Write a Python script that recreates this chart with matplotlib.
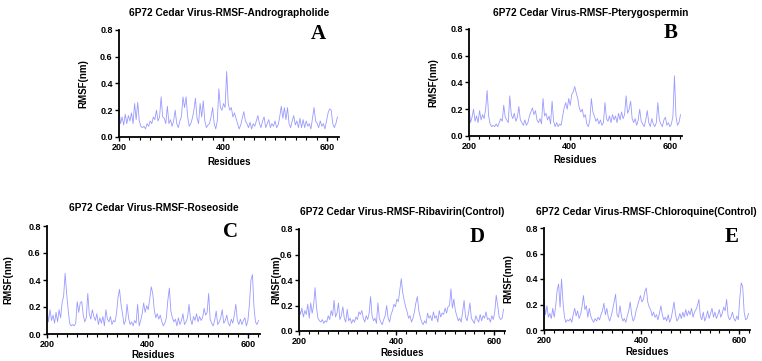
import numpy as np
import matplotlib
matplotlib.use("Agg")
import matplotlib.pyplot as plt
from matplotlib.ticker import MultipleLocator

# residue index, one value every 3 residues
residues = np.arange(200, 621, 3)

rmsf_andrographolide = [
    0.20, 0.10, 0.15, 0.09, 0.17, 0.10, 0.16, 0.12, 0.18, 0.10,
    0.25, 0.13, 0.26, 0.12, 0.08, 0.07, 0.08, 0.06, 0.10, 0.08,
    0.12, 0.10, 0.15, 0.13, 0.20, 0.12, 0.15, 0.30, 0.15, 0.14,
    0.10, 0.23, 0.10, 0.13, 0.08, 0.12, 0.20, 0.10, 0.07, 0.12,
    0.15, 0.30, 0.22, 0.30, 0.15, 0.08, 0.10, 0.14, 0.20, 0.29,
    0.14, 0.10, 0.25, 0.15, 0.27, 0.12, 0.07, 0.09, 0.10, 0.15,
    0.22, 0.10, 0.06, 0.12, 0.36, 0.22, 0.20, 0.25, 0.22, 0.49,
    0.25, 0.20, 0.22, 0.15, 0.18, 0.14, 0.10, 0.06, 0.09, 0.14,
    0.19, 0.12, 0.10, 0.07, 0.11, 0.06, 0.10, 0.08, 0.12, 0.16,
    0.10, 0.07, 0.12, 0.15, 0.07, 0.10, 0.13, 0.07, 0.10, 0.08,
    0.12, 0.07, 0.09, 0.15, 0.23, 0.14, 0.22, 0.13, 0.22, 0.10,
    0.07, 0.12, 0.16, 0.09, 0.12, 0.07, 0.14, 0.07, 0.13, 0.07,
    0.12, 0.08, 0.10, 0.06, 0.14, 0.22, 0.12, 0.10, 0.07, 0.12,
    0.08, 0.10, 0.06, 0.12, 0.18, 0.21, 0.20, 0.10, 0.07, 0.10,
    0.15,
]

rmsf_pterygospermin = [
    0.22, 0.10, 0.14, 0.20, 0.11, 0.15, 0.10, 0.19, 0.12, 0.16,
    0.13, 0.20, 0.34, 0.15, 0.09, 0.07, 0.08, 0.07, 0.09, 0.07,
    0.10, 0.13, 0.11, 0.23, 0.14, 0.12, 0.10, 0.30, 0.16, 0.13,
    0.17, 0.11, 0.14, 0.22, 0.12, 0.10, 0.08, 0.12, 0.08, 0.10,
    0.15, 0.18, 0.21, 0.16, 0.19, 0.12, 0.10, 0.13, 0.09, 0.28,
    0.15, 0.17, 0.12, 0.15, 0.09, 0.26, 0.11, 0.07, 0.10, 0.07,
    0.09, 0.08, 0.15, 0.21, 0.25, 0.20, 0.28, 0.23, 0.31, 0.33,
    0.37, 0.32, 0.28, 0.21, 0.18, 0.20, 0.14, 0.16, 0.09, 0.07,
    0.12, 0.28, 0.18, 0.15, 0.11, 0.13, 0.09, 0.12, 0.08, 0.10,
    0.25, 0.13, 0.11, 0.15, 0.10, 0.16, 0.12, 0.15, 0.10, 0.17,
    0.12, 0.18, 0.13, 0.16, 0.30, 0.17, 0.20, 0.26, 0.13, 0.10,
    0.13, 0.08, 0.12, 0.20, 0.11, 0.09, 0.07, 0.12, 0.19, 0.10,
    0.07, 0.13, 0.09, 0.07, 0.10, 0.25, 0.12, 0.09, 0.07, 0.12,
    0.14, 0.08, 0.10, 0.07, 0.09, 0.15, 0.45, 0.15, 0.08, 0.10,
    0.16,
]

rmsf_roseoside = [
    0.20, 0.09, 0.18, 0.10, 0.14, 0.08, 0.16, 0.09, 0.18, 0.12,
    0.23, 0.28, 0.45, 0.30, 0.18, 0.08, 0.06, 0.07, 0.06, 0.08,
    0.24, 0.16, 0.23, 0.24, 0.14, 0.09, 0.12, 0.30, 0.15, 0.11,
    0.18, 0.13, 0.10, 0.15, 0.07, 0.12, 0.08, 0.13, 0.06, 0.18,
    0.11, 0.09, 0.13, 0.07, 0.10, 0.09, 0.15, 0.27, 0.33, 0.22,
    0.15, 0.07, 0.10, 0.22, 0.12, 0.07, 0.09, 0.06, 0.10, 0.08,
    0.22, 0.06, 0.10, 0.15, 0.23, 0.16, 0.21, 0.18, 0.26, 0.35,
    0.30, 0.18, 0.12, 0.15, 0.11, 0.14, 0.09, 0.06, 0.08, 0.12,
    0.25, 0.34, 0.17, 0.12, 0.09, 0.11, 0.06, 0.12, 0.07, 0.10,
    0.15, 0.07, 0.09, 0.12, 0.22, 0.11, 0.07, 0.13, 0.10, 0.15,
    0.09, 0.13, 0.10, 0.12, 0.19, 0.14, 0.16, 0.30, 0.11, 0.08,
    0.06, 0.10, 0.17, 0.07, 0.09, 0.12, 0.18, 0.08, 0.10, 0.14,
    0.08, 0.06, 0.11, 0.08, 0.14, 0.22, 0.10, 0.07, 0.11, 0.07,
    0.10, 0.12, 0.06, 0.10, 0.22, 0.40, 0.44, 0.20, 0.09, 0.07,
    0.10,
]

rmsf_ribavirin = [
    0.19, 0.13, 0.18, 0.11, 0.16, 0.13, 0.21, 0.10, 0.22, 0.14,
    0.20, 0.34, 0.18, 0.10, 0.08, 0.07, 0.09, 0.06, 0.08, 0.07,
    0.12, 0.09, 0.16, 0.12, 0.24, 0.11, 0.14, 0.22, 0.09, 0.12,
    0.19, 0.10, 0.07, 0.17, 0.08, 0.10, 0.06, 0.09, 0.07, 0.11,
    0.09, 0.15, 0.13, 0.16, 0.10, 0.07, 0.12, 0.09, 0.14, 0.27,
    0.12, 0.08, 0.10, 0.06, 0.22, 0.10, 0.07, 0.05, 0.09, 0.12,
    0.20, 0.10, 0.07, 0.13, 0.16, 0.21, 0.19, 0.25, 0.23, 0.32,
    0.41, 0.30, 0.24, 0.19, 0.15, 0.10, 0.12, 0.07, 0.10, 0.15,
    0.22, 0.27, 0.16, 0.11, 0.07, 0.05, 0.08, 0.06, 0.14, 0.10,
    0.12, 0.08, 0.15, 0.10, 0.12, 0.07, 0.16, 0.11, 0.14, 0.13,
    0.18, 0.14, 0.19, 0.20, 0.33, 0.18, 0.25, 0.16, 0.12, 0.08,
    0.10, 0.07, 0.15, 0.24, 0.11, 0.08, 0.14, 0.22, 0.10, 0.08,
    0.06, 0.12, 0.09, 0.07, 0.13, 0.08, 0.12, 0.10, 0.15, 0.09,
    0.10, 0.07, 0.12, 0.09, 0.15, 0.28, 0.20, 0.11, 0.09, 0.10,
    0.17,
]

rmsf_chloroquine = [
    0.25, 0.12, 0.19, 0.10, 0.13, 0.09, 0.17, 0.10, 0.19, 0.31,
    0.36, 0.18, 0.40, 0.22, 0.10, 0.06, 0.08, 0.07, 0.09, 0.06,
    0.12, 0.17, 0.11, 0.15, 0.09, 0.12, 0.18, 0.27, 0.16, 0.19,
    0.10, 0.17, 0.11, 0.08, 0.06, 0.09, 0.07, 0.10, 0.08, 0.12,
    0.15, 0.21, 0.12, 0.17, 0.10, 0.07, 0.11, 0.16, 0.22, 0.28,
    0.12, 0.10, 0.19, 0.11, 0.07, 0.09, 0.06, 0.11, 0.15, 0.22,
    0.12, 0.07, 0.09, 0.15, 0.19, 0.23, 0.27, 0.22, 0.24, 0.30,
    0.33, 0.22, 0.18, 0.16, 0.11, 0.14, 0.10, 0.12, 0.08, 0.13,
    0.19, 0.12, 0.08, 0.10, 0.07, 0.12, 0.06, 0.09, 0.15, 0.22,
    0.12, 0.07, 0.09, 0.13, 0.09, 0.14, 0.10, 0.16, 0.11, 0.15,
    0.12, 0.17, 0.10, 0.14, 0.16, 0.19, 0.24, 0.11, 0.08, 0.14,
    0.07, 0.10, 0.15, 0.09, 0.13, 0.17, 0.10, 0.14, 0.09, 0.12,
    0.16, 0.10, 0.13, 0.18, 0.15, 0.24, 0.11, 0.08, 0.10, 0.14,
    0.09, 0.07, 0.11, 0.08, 0.25, 0.37, 0.34, 0.14, 0.08, 0.09,
    0.13,
]

titles = [
    "6P72 Cedar Virus-RMSF-Andrographolide",
    "6P72 Cedar Virus-RMSF-Pterygospermin",
    "6P72 Cedar Virus-RMSF-Roseoside",
    "6P72 Cedar Virus-RMSF-Ribavirin(Control)",
    "6P72 Cedar Virus-RMSF-Chloroquine(Control)",
]
letters = ["A", "B", "C", "D", "E"]
series = [rmsf_andrographolide, rmsf_pterygospermin, rmsf_roseoside,
          rmsf_ribavirin, rmsf_chloroquine]

W, H = 762, 361
# panel layout in pixels: axes box (left, top, right, bottom),
# title centre, ylabel x, xlabel y, letter centre
layout = [
    dict(box=(119, 30, 339, 137), title=(229, 13), ylab=83, xlab=162, letter=(318, 34)),
    dict(box=(469, 29, 682, 136), title=(591, 13), ylab=433, xlab=160, letter=(671, 33)),
    dict(box=(47, 226, 260, 334), title=(154, 208), ylab=8, xlab=355, letter=(230, 232)),
    dict(box=(299, 229, 505, 331), title=(402, 212), ylab=276, xlab=353, letter=(477, 237)),
    dict(box=(544, 228, 750, 330), title=(646, 212), ylab=508, xlab=352, letter=(732, 237)),
]

plt.rcParams['font.family'] = ['Liberation Sans', 'DejaVu Sans']
plt.rcParams['font.weight'] = 'bold'

fig = plt.figure(figsize=(W / 100, H / 100), dpi=100)

def fx(x):
    return x / W

def fy(y):
    return 1 - y / H

for vals, title, letter, lay in zip(series, titles, letters, layout):
    vals = np.array(vals)
    assert len(vals) == len(residues)
    l, t, r, b = lay['box']
    ax = fig.add_axes([fx(l), fy(b), (r - l) / W, (b - t) / H])
    ax.plot(residues, vals, color='#9a9aff', lw=0.6)
    ax.set_xlim(200, 623)
    ax.set_ylim(0, 0.8)
    ax.xaxis.set_major_locator(MultipleLocator(200))
    ax.xaxis.set_minor_locator(MultipleLocator(20))
    ax.yaxis.set_major_locator(MultipleLocator(0.2))
    ax.yaxis.set_major_formatter(plt.FuncFormatter(lambda v, p: f"{v:.1f}"))
    for side in ['top', 'right']:
        ax.spines[side].set_visible(False)
    for side in ['left', 'bottom']:
        ax.spines[side].set_linewidth(1.3)
    ax.tick_params(axis='both', which='major', labelsize=6.5, width=1.0,
                   length=3, pad=1.5)
    ax.tick_params(axis='x', which='minor', width=0.8, length=2)
    for lbl in ax.get_xticklabels() + ax.get_yticklabels():
        lbl.set_fontweight('bold')

    fig.text(fx(lay['title'][0]), fy(lay['title'][1]), title, ha='center',
             va='center', fontsize=7.3, fontweight='bold')
    fig.text(fx(lay['ylab']), fy((t + b) / 2), "RMSF(nm)", rotation=90,
             ha='center', va='center', fontsize=7, fontweight='bold')
    fig.text(fx((l + r) / 2), fy(lay['xlab']), "Residues", ha='center',
             va='center', fontsize=7, fontweight='bold')
    fig.text(fx(lay['letter'][0]), fy(lay['letter'][1]), letter,
             ha='center', va='center', fontsize=15, fontweight='bold',
             family=['Liberation Serif', 'DejaVu Serif'])

fig.savefig("out.png", dpi=100)
